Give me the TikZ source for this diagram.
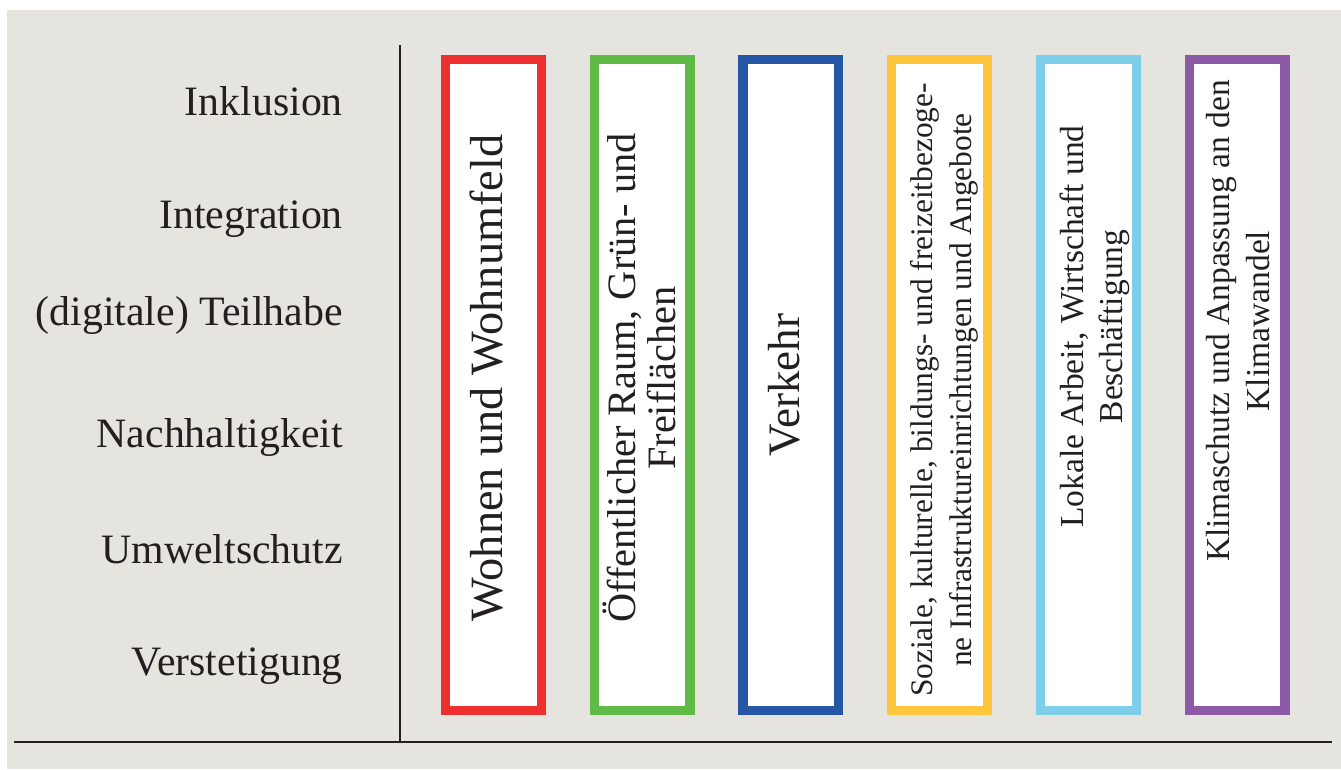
\documentclass[tikz,border=0pt]{standalone}
\usepackage{fontspec}
\setmainfont{Liberation Serif}
\usepackage{tikz}
\usetikzlibrary{positioning}
\definecolor{bggray}{HTML}{E5E4DE}
\definecolor{textdark}{HTML}{231F20}
\definecolor{wohnred}{HTML}{EE2F2F}
\definecolor{raumgreen}{HTML}{5FBA46}
\definecolor{verkehrblue}{HTML}{2657A6}
\definecolor{sozialyellow}{HTML}{FEC63C}
\definecolor{arbeitblue}{HTML}{7DCFE9}
\definecolor{klimapurple}{HTML}{8B59A6}

\begin{document}
\begin{tikzpicture}[
  x=1pt,y=-1pt,
  boxnode/.style={draw=#1,line width=9.3pt,fill=white,minimum width=95.7pt,minimum height=650.7pt,inner sep=0pt},
  ]
  \tikzset{%
    leftlabel/.style={
      anchor=base east,
      inner sep=0pt,
      text=textdark,
      font=\fontsize{41.8}{40}\selectfont,
    },
    boxtext/.style={
      rotate=90,
      align=center,
      inner sep=0pt,
      text=textdark,
    },
    rule/.style={line width=2pt,color=textdark},
  }
  %Background
  \fill[white] (0,0) rectangle (1341,769);
  \fill[bggray] (7,10) rectangle (1341,769);
  %Nodes
  \node[boxnode=wohnred](wohnen) at (493.5,385){};
  \node[boxnode=raumgreen,right=43.7pt of wohnen](raum){};
  \node[boxnode=verkehrblue,right=43.7pt of raum](verkehr){};
  \node[boxnode=sozialyellow,right=43.7pt of verkehr](sozial){};
  \node[boxnode=arbeitblue,right=43.7pt of sozial](arbeit){};
  \node[boxnode=klimapurple,right=43.7pt of arbeit](klima){};
  %Box texts
  \node[boxtext,font=\fontsize{46.3}{40}\selectfont](wohnentext) at (486.3,378){Wohnen und Wohnumfeld};
  \node[boxtext,font=\fontsize{40.3}{40}\selectfont](raumtext) at (639.5,378){Öffentlicher Raum, Grün- und\\Freiflächen};
  \node[boxtext,font=\fontsize{45}{40}\selectfont](verkehrtext) at (784.6,385){Verkehr};
  \node[boxtext,font=\fontsize{31.4}{39}\selectfont](sozialtext) at (944.3,390){Soziale, kulturelle, bildungs- und freizeitbezoge-\\ne Infrastruktureinrichtungen und Angebote};
  \node[boxtext,font=\fontsize{33.5}{39}\selectfont](arbeittext) at (1094.7,326.5){Lokale Arbeit, Wirtschaft und\\Beschäftigung};
  \node[boxtext,font=\fontsize{33.5}{40}\selectfont](klimatext) at (1238.5,321){Klimaschutz und Anpassung an den\\Klimawandel};
  %Labels
  \node[leftlabel](inklusion) at (343,115){Inklusion};
  \node[leftlabel](integration) at (343,228){Integration};
  \node[leftlabel](teilhabe) at (343,325){(digitale) Teilhabe};
  \node[leftlabel](nachhaltigkeit) at (343,447){Nachhaltigkeit};
  \node[leftlabel](umweltschutz) at (343,563){Umweltschutz};
  \node[leftlabel](verstetigung) at (343,675){Verstetigung};
  %Lines
  \coordinate (vtop) at (400,45);
  \coordinate (vbot) at (400,741.5);
  \coordinate (hleft) at (14,741.5);
  \coordinate (hright) at (1332,741.5);
  \draw[rule] (vtop) -- (vbot);
  \draw[rule] (hleft) -- (hright);
\end{tikzpicture}
\end{document}
